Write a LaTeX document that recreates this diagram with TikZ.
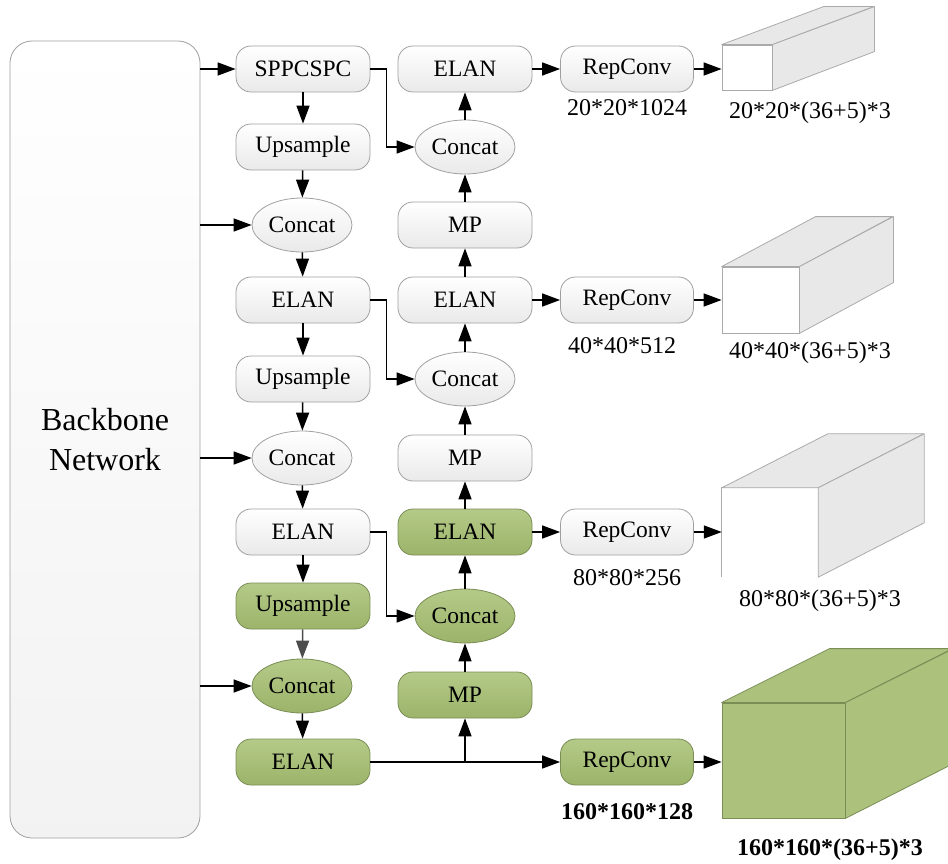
\documentclass[tikz,border=0pt]{standalone}
\usepackage{fontspec}
\setmainfont{Liberation Serif}
\usetikzlibrary{arrows.meta,shapes.geometric}
\definecolor{gfill}{HTML}{ABC17C}
\definecolor{gtop}{HTML}{B4CA88}
\definecolor{gbot}{HTML}{9CB36A}
\definecolor{gdraw}{HTML}{7A8D55}
\definecolor{bdraw}{HTML}{A0A0A0}
\definecolor{cside}{HTML}{E8E8E8}
\definecolor{cedge}{HTML}{AAAAAA}
\begin{document}
\begin{tikzpicture}[x=1pt,y=-1pt,
  blk/.style={rectangle, rounded corners=15pt, draw=bdraw, line width=0.8pt,
    minimum width=134pt, minimum height=46pt, top color=white, bottom color=gray!17,
    font=\fontsize{23.5}{26}\selectfont, inner sep=0pt},
  ell/.style={ellipse, draw=bdraw, line width=0.8pt, minimum width=100pt, minimum height=54pt,
    top color=white, bottom color=gray!17, font=\fontsize{23.5}{26}\selectfont, inner sep=0pt},
  grn/.style={draw=gdraw, top color=gtop, bottom color=gbot},
  arr/.style={-{Triangle[length=18pt,width=13pt]}, line width=1.5pt, black},
  lbl/.style={font=\fontsize{24}{28}\selectfont, inner sep=0pt},
  face/.style={draw=cedge, line width=0.8pt, fill=cside, line join=round},
  gface/.style={draw=gdraw, line width=0.8pt, fill=gfill, line join=round}
]
\useasboundingbox (0,0) rectangle (948,864);
\clip (0,0) rectangle (948,864);

% backbone
\node[draw=bdraw, line width=0.8pt, rounded corners=22pt, top color=white, bottom color=gray!10,
  minimum width=190pt, minimum height=797pt, inner sep=0pt, align=center,
  font=\fontsize{32}{40}\selectfont] (bb) at (105,439.5) {Backbone\\Network};

% column 1
\node[blk] (spp) at (303,69) {SPPCSPC};
\node[blk] (up1) at (303,147) {Upsample};
\node[ell] (cc1) at (302,225) {Concat};
\node[blk] (el1) at (303,300) {ELAN};
\node[blk] (up2) at (303,379) {Upsample};
\node[ell] (cc2) at (302,458) {Concat};
\node[blk] (el2) at (303,532) {ELAN};
\node[blk,grn] (up3) at (303,606) {Upsample};
\node[ell,grn] (cc3) at (302,686) {Concat};
\node[blk,grn] (el3) at (303,762) {ELAN};

% column 2
\node[blk] (e21) at (465,69) {ELAN};
\node[ell] (c21) at (465,147) {Concat};
\node[blk] (mp1) at (465,225) {MP};
\node[blk] (e22) at (465,300) {ELAN};
\node[ell] (c22) at (465,379) {Concat};
\node[blk] (mp2) at (465,458) {MP};
\node[blk,grn] (e23) at (465,532) {ELAN};
\node[ell,grn] (c23) at (465,616) {Concat};
\node[blk,grn] (mp3) at (465,695) {MP};

% column 3
\node[blk, minimum width=133pt] (r1) at (627,69) {RepConv};
\node[blk, minimum width=133pt] (r2) at (627,300) {RepConv};
\node[blk, minimum width=133pt] (r3) at (627,532) {RepConv};
\node[blk, grn, minimum width=133pt] (r4) at (627,762) {RepConv};

% labels
\node[lbl] (l1) at (627,108) {20*20*1024};
\node[lbl] (l2) at (622,346) {40*40*512};
\node[lbl] (l3) at (627,578) {80*80*256};
\node[lbl, font=\fontsize{24}{28}\selectfont\bfseries] (l4) at (627,812) {160*160*128};

% cubes
% cube 1
\node[draw=cedge, line width=0.8pt, fill=white, minimum width=50pt, minimum height=45pt, inner sep=0pt] (f1) at (747,67.5) {};
\draw[face] (f1.north west) -- ++(102,-38) -- ++(50,0) -- (f1.north east) -- cycle;
\draw[face] (f1.north east) -- ++(102,-38) -- ++(0,45) -- (f1.south east) -- cycle;
\node[lbl] (t1) at (810,113) {20*20*(36+5)*3};
% cube 2
\node[draw=cedge, line width=0.8pt, fill=white, minimum width=77pt, minimum height=66pt, inner sep=0pt] (f2) at (760.5,300) {};
\draw[face] (f2.north west) -- ++(94,-50) -- ++(77,0) -- (f2.north east) -- cycle;
\draw[face] (f2.north east) -- ++(94,-50) -- ++(0,66) -- (f2.south east) -- cycle;
\node[lbl] (t2) at (810,353) {40*40*(36+5)*3};
% cube 3 (front face without bottom edge)
\node[fill=white, minimum width=96pt, minimum height=89pt, inner sep=0pt] (f3) at (770,532.5) {};
\draw[draw=cedge, line width=0.8pt] (f3.south west) -- (f3.north west) -- (f3.north east);
\draw[face] (f3.north west) -- ++(106,-54) -- ++(96,0) -- (f3.north east) -- cycle;
\draw[face] (f3.north east) -- ++(106,-54) -- ++(0,89) -- (f3.south east) -- cycle;
\node[lbl] (t3) at (820,601) {80*80*(36+5)*3};
% cube 4 (green)
\node[draw=gdraw, line width=0.8pt, fill=gfill, minimum width=123pt, minimum height=115pt, inner sep=0pt] (f4) at (783.5,760.5) {};
\draw[gface] (f4.north west) -- ++(108,-54) -- ++(123,0) -- (f4.north east) -- cycle;
\draw[gface] (f4.north east) -- ++(108,-54) -- ++(0,115) -- (f4.south east) -- cycle;
\node[lbl, font=\fontsize{24}{28}\selectfont\bfseries] (t4) at (830,850) {160*160*(36+5)*3};

% backbone arrows
\draw[arr] (bb.east |- spp.west) -- (spp.west);
\draw[arr] (bb.east |- cc1.west) -- (cc1.west);
\draw[arr] (bb.east |- cc2.west) -- (cc2.west);
\draw[arr] (bb.east |- cc3.west) -- (cc3.west);

% column 1 downward
\draw[arr] (spp) -- (up1);
\draw[arr] (up1) -- (cc1);
\draw[arr] (cc1) -- (el1);
\draw[arr] (el1) -- (up2);
\draw[arr] (up2) -- (cc2);
\draw[arr] (cc2) -- (el2);
\draw[arr] (el2) -- (up3);
\draw[arr, draw=black!70, fill=black!70] (up3) -- (cc3);
\draw[arr] (cc3) -- (el3);

% column 2 upward
\draw[arr] (mp3) -- (c23);
\draw[arr] (c23) -- (e23);
\draw[arr] (e23) -- (mp2);
\draw[arr] (mp2) -- (c22);
\draw[arr] (c22) -- (e22);
\draw[arr] (e22) -- (mp1);
\draw[arr] (mp1) -- (c21);
\draw[arr] (c21) -- (e21);

% cross links
\draw[arr] (spp.east) -- ++(16,0) |- (c21.west);
\draw[arr] (el1.east) -- ++(16,0) |- (c22.west);
\draw[arr] (el2.east) -- ++(16,0) |- (c23.west);
\draw[arr] (el3.east) -- (r4.west);
\draw[arr] (el3.east -| mp3.south) -- (mp3.south);

% to RepConv
\draw[arr] (e21) -- (r1);
\draw[arr] (e22) -- (r2);
\draw[arr] (e23) -- (r3);

% to heads
\draw[arr] (r1.east) -- (r1.east -| f1.west);
\draw[arr] (r2.east) -- (r2.east -| f2.west);
\draw[arr] (r3.east) -- (r3.east -| f3.west);
\draw[arr] (r4.east) -- (r4.east -| f4.west);
\end{tikzpicture}
\end{document}
